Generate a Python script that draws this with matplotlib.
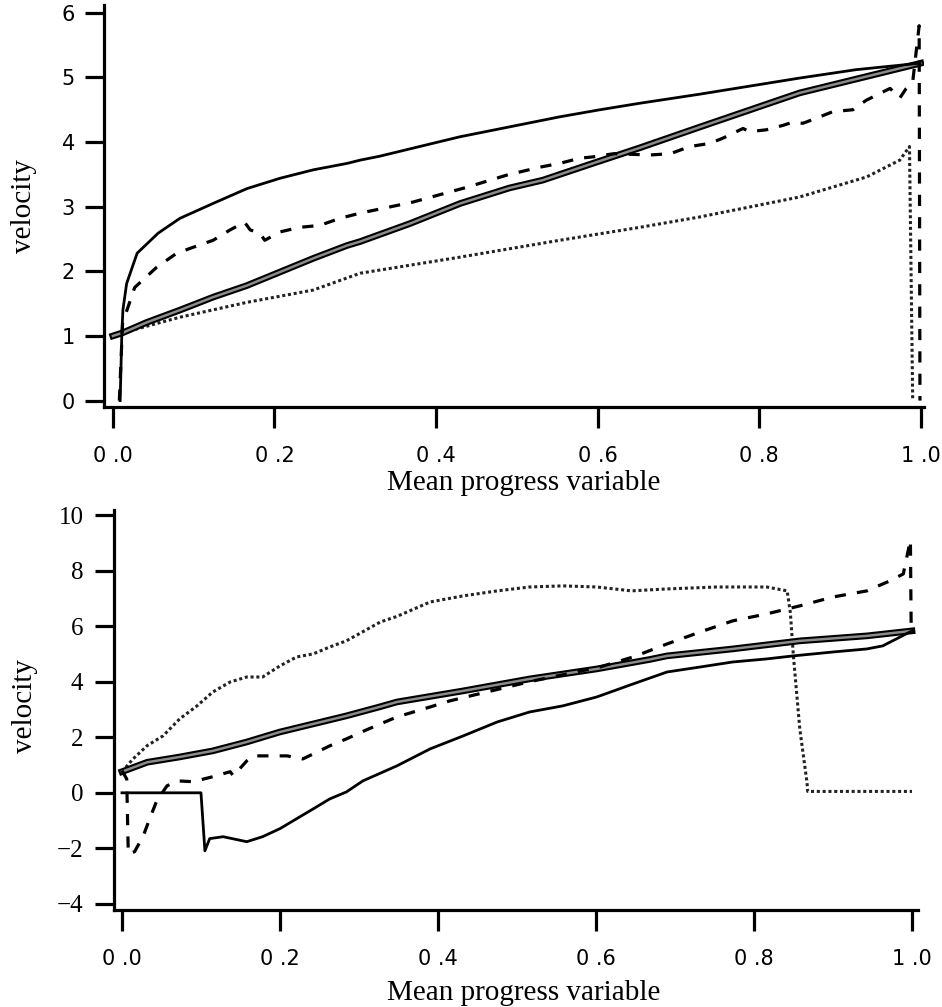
import numpy as np
import matplotlib.pyplot as plt

# --- upper panel ---
top_thin_x = [0.009, 0.011, 0.0124, 0.017, 0.030, 0.056, 0.083, 0.124, 0.166, 0.207, 0.248, 0.290,
              0.306, 0.33, 0.429, 0.553, 0.603, 0.652, 0.726, 0.85, 0.92, 0.999]
top_thin_y = [0.0, 1.0, 1.40, 1.81, 2.28, 2.59, 2.82, 3.05, 3.28, 3.44, 3.57, 3.67,
              3.72, 3.78, 4.08, 4.39, 4.50, 4.60, 4.74, 4.99, 5.12, 5.22]

top_thick_x = [0.0, 0.0124, 0.042, 0.083, 0.124, 0.166, 0.207, 0.248, 0.290, 0.306, 0.368, 0.43,
               0.491, 0.532, 0.594, 0.652, 0.726, 0.85, 1.0]
top_thick_y = [1.0, 1.05, 1.21, 1.40, 1.60, 1.78, 1.99, 2.20, 2.40, 2.46, 2.74, 3.05,
               3.29, 3.41, 3.67, 3.91, 4.23, 4.76, 5.22]

top_dot_x = [0.0, 0.0124, 0.083, 0.166, 0.248, 0.306, 0.43, 0.553, 0.652, 0.726, 0.85, 0.933,
             0.974, 0.986, 0.990]
top_dot_y = [1.0, 1.05, 1.29, 1.52, 1.71, 1.97, 2.22, 2.48, 2.68, 2.84, 3.15, 3.46,
             3.72, 3.93, 0.0]

top_dash_x = [0.008, 0.012, 0.027, 0.054, 0.079, 0.099, 0.124, 0.145, 0.163, 0.170, 0.182, 0.188,
              0.207, 0.231, 0.256, 0.281, 0.306, 0.371, 0.438, 0.488, 0.528, 0.553, 0.578, 0.594,
              0.62, 0.665, 0.69, 0.714, 0.739, 0.755, 0.78, 0.788, 0.809, 0.83, 0.842, 0.854,
              0.871, 0.891, 0.916, 0.921, 0.933, 0.962, 0.974, 0.982, 0.99, 0.998, 0.999]
top_dash_y = [0.0, 1.2, 1.75, 2.06, 2.28, 2.37, 2.48, 2.64, 2.76, 2.64, 2.59, 2.48,
              2.61, 2.68, 2.71, 2.82, 2.90, 3.07, 3.30, 3.49, 3.61, 3.67, 3.75, 3.77,
              3.82, 3.80, 3.82, 3.93, 3.98, 4.06, 4.21, 4.16, 4.19, 4.26, 4.31, 4.29,
              4.37, 4.47, 4.50, 4.55, 4.65, 4.83, 4.68, 4.83, 4.93, 5.8, 0.0]

# --- lower panel ---
bot_thin_x = [0.0, 0.1, 0.105, 0.111, 0.128, 0.158, 0.178, 0.2, 0.242, 0.263, 0.284, 0.305,
              0.348, 0.39, 0.432, 0.475, 0.516, 0.558, 0.601, 0.647, 0.69, 0.732, 0.773, 0.816,
              0.85, 0.9, 0.943, 0.963, 0.985, 1.0]
bot_thin_y = [0.0, 0.0, -2.09, -1.65, -1.58, -1.76, -1.58, -1.29, -0.58, -0.22, 0.03, 0.43,
              0.97, 1.58, 2.05, 2.55, 2.91, 3.13, 3.45, 3.92, 4.35, 4.53, 4.71, 4.82,
              4.93, 5.07, 5.18, 5.29, 5.61, 5.83]

bot_thick_x = [0.0, 0.032, 0.073, 0.115, 0.158, 0.2, 0.242, 0.284, 0.327, 0.348, 0.432, 0.516,
               0.601, 0.668, 0.69, 0.773, 0.858, 0.943, 1.0]
bot_thick_y = [0.76, 1.10, 1.29, 1.51, 1.83, 2.19, 2.48, 2.77, 3.10, 3.27, 3.67, 4.10,
               4.46, 4.80, 4.93, 5.18, 5.47, 5.65, 5.83]

bot_dot_x = [0.0, 0.014, 0.032, 0.052, 0.073, 0.095, 0.115, 0.137, 0.158, 0.178, 0.2, 0.221,
             0.242, 0.263, 0.284, 0.305, 0.327, 0.348, 0.39, 0.432, 0.475, 0.516, 0.558, 0.601,
             0.645, 0.69, 0.753, 0.816, 0.842, 0.846, 0.85, 0.858, 0.867, 0.868, 1.0]
bot_dot_y = [0.76, 1.22, 1.70, 2.05, 2.66, 3.13, 3.63, 3.99, 4.17, 4.17, 4.57, 4.89,
             5.0, 5.25, 5.47, 5.80, 6.15, 6.35, 6.87, 7.09, 7.27, 7.41, 7.45, 7.41,
             7.27, 7.34, 7.41, 7.41, 7.27, 6.5, 4.9, 2.3, 0.4, 0.05, 0.05]

bot_dash_x = [0.0, 0.006, 0.008, 0.016, 0.027, 0.035, 0.044, 0.057, 0.07, 0.09, 0.115, 0.137,
              0.141, 0.158, 0.166, 0.187, 0.209, 0.229, 0.242, 0.263, 0.284, 0.305, 0.327, 0.348,
              0.39, 0.415, 0.45, 0.516, 0.605, 0.647, 0.69, 0.732, 0.773, 0.816, 0.858, 0.9,
              0.943, 0.972, 0.989, 0.998, 0.999]
bot_dash_y = [0.8, 0.5, -2.2, -2.12, -1.55, -0.94, -0.29, 0.25, 0.43, 0.40, 0.58, 0.76,
              0.61, 1.15, 1.33, 1.33, 1.33, 1.22, 1.40, 1.69, 1.94, 2.21, 2.48, 2.73,
              3.09, 3.31, 3.55, 4.0, 4.53, 4.89, 5.36, 5.79, 6.19, 6.44, 6.73, 7.05,
              7.27, 7.63, 7.88, 9.1, 5.85]

xticks = [0.0, 0.2, 0.4, 0.6, 0.8, 1.0]
xticklabels = ["0 .0", "0 .2", "0 .4", "0 .6", "0 .8", "1 .0"]
top_yticks = [0, 1, 2, 3, 4, 5, 6]
bot_yticks = [-4, -2, 0, 2, 4, 6, 8, 10]

serif = "Liberation Serif"

fig = plt.figure(figsize=(9.42, 10.07), dpi=100)
ax1 = fig.add_axes([0.1104, 0.5958, 0.8705, 0.3992])
ax2 = fig.add_axes([0.1210, 0.0963, 0.8535, 0.3972])


def draw_curves(ax, thin, thick, dash, dot):
    ax.plot(*dot, color="#222222", lw=2.2, dashes=(1.0, 0.9), solid_capstyle="butt")
    ax.plot(*thick, color="black", lw=4.8, solid_joinstyle="round")
    ax.plot(*thick, color="#8c8c8c", lw=1.8, solid_joinstyle="round")
    ax.plot(*dash, color="black", lw=2.3, dashes=(3.5, 3.5))
    ax.plot(*thin, color="black", lw=2.0)


def style_axes(ax, yticks, ytick_font, ytick_size, ypad):
    for side in ("top", "right"):
        ax.spines[side].set_visible(False)
    for side in ("left", "bottom"):
        ax.spines[side].set_linewidth(2.3)
    ax.set_xticks(xticks)
    ax.set_xticklabels(xticklabels, fontsize=15, family="DejaVu Sans")
    ax.set_yticks(yticks)
    ax.set_yticklabels([str(v).replace("-", "\u2212") for v in yticks],
                       fontsize=ytick_size, family=ytick_font)
    ax.tick_params(axis="x", direction="out", length=15, width=2.3, pad=13)
    ax.tick_params(axis="y", direction="out", length=14, width=2.3, pad=ypad)
    ax.set_ylabel("velocity", fontsize=21, family=serif)
    ax.set_xlabel("Mean progress variable", fontsize=21, family=serif)


draw_curves(ax1, (top_thin_x, top_thin_y), (top_thick_x, top_thick_y),
            (top_dash_x, top_dash_y), (top_dot_x, top_dot_y))
ax1.set_xlim(-0.011, 1.004)
ax1.set_ylim(-0.1, 6.12)
style_axes(ax1, top_yticks, "DejaVu Sans", 15, 7)
ax1.yaxis.set_label_coords(-0.082, 0.50)
ax1.xaxis.set_label_coords(0.512, -0.157)

draw_curves(ax2, (bot_thin_x, bot_thin_y), (bot_thick_x, bot_thick_y),
            (bot_dash_x, bot_dash_y), (bot_dot_x, bot_dot_y))
ax2.set_xlim(-0.0101, 1.0076)
ax2.set_ylim(-4.22, 10.18)
style_axes(ax2, bot_yticks, serif, 18, 8)
ax2.yaxis.set_label_coords(-0.0945, 0.51)
ax2.xaxis.set_label_coords(0.51, -0.175)

fig.savefig("out.png", dpi=100)
